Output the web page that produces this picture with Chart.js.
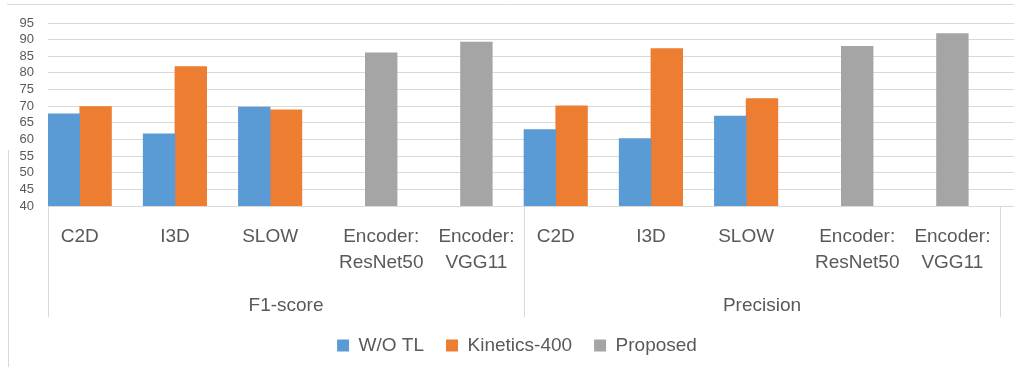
<!DOCTYPE html>
<html>
<head>
<meta charset="utf-8">
<script src="https://cdn.jsdelivr.net/npm/chart.js@4.4.1/dist/chart.umd.min.js"></script>
<style>
  html, body { margin: 0; padding: 0; background: #ffffff; }
  canvas { display: block; }
</style>
</head>
<body>
<canvas id="chart" width="1014" height="367"></canvas>
<script>
// Category labels (multi-line) and their metric groups
const categories = [
  ['C2D'], ['I3D'], ['SLOW'], ['Encoder:', 'ResNet50'], ['Encoder:', 'VGG11'],
  ['C2D'], ['I3D'], ['SLOW'], ['Encoder:', 'ResNet50'], ['Encoder:', 'VGG11']
];
const groups = ['F1-score', 'Precision'];
const groupSize = 5;

// Series values
const woTL      = [67.7, 61.7, 69.7, null, null, 63.0, 60.3, 67.0, null, null];
const kinetics  = [69.9, 81.9, 68.9, null, null, 70.1, 87.3, 72.3, null, null];
const proposed  = [null, null, null, 86.0, 89.3, null, null, null, 88.0, 91.8];
const emptySlot = [null, null, null, null, null, null, null, null, null, null];

// Value axis
const yMin = 40;
const yMax = 95;
const yStep = 5;

const TEXT = '#595959';
const GRID = '#d9d9d9';
const FONT = '"Liberation Sans", Arial, sans-serif';

Chart.defaults.font.family = FONT;
Chart.defaults.color = TEXT;

// Draws the category labels centred under their bars, the group labels,
// the group separators and the thin outer frame.
const categoryAxis = {
  id: 'categoryAxis',
  beforeDraw(chart) {
    const { ctx, width, height } = chart;
    ctx.save();
    ctx.strokeStyle = GRID;
    ctx.lineWidth = 1;
    ctx.beginPath();
    ctx.moveTo(7, 4.5);
    ctx.lineTo(width, 4.5);
    ctx.moveTo(8.5, 150);
    ctx.lineTo(8.5, height);
    ctx.stroke();
    ctx.restore();
  },
  afterDraw(chart) {
    const { ctx, chartArea, scales: { x } } = chart;
    const n = categories.length;
    const cw = (x.right - x.left) / n;
    const top = chartArea.bottom;
    const metas = chart.data.datasets.map((d, i) => chart.getDatasetMeta(i));

    ctx.save();
    ctx.fillStyle = TEXT;
    ctx.font = '19px ' + FONT;
    ctx.textAlign = 'center';
    ctx.textBaseline = 'alphabetic';

    categories.forEach((lines, i) => {
      const xs = [];
      metas.forEach((m, d) => {
        const v = chart.data.datasets[d].data[i];
        if (v !== null && v !== undefined && m.data[i]) xs.push(m.data[i].x);
      });
      const cx = xs.length ? xs.reduce((a, b) => a + b, 0) / xs.length : x.getPixelForValue(i);
      lines.forEach((t, j) => ctx.fillText(t, cx, top + 36 + j * 26));
    });

    groups.forEach((g, k) => {
      const l = x.left + k * groupSize * cw;
      const r = l + groupSize * cw;
      ctx.fillText(g, (l + r) / 2, top + 105);
    });

    ctx.strokeStyle = GRID;
    ctx.lineWidth = 1;
    for (let k = 0; k <= groups.length; k++) {
      const px = Math.round(x.left + k * groupSize * cw) + 0.5;
      ctx.beginPath();
      ctx.moveTo(px, top);
      ctx.lineTo(px, top + 111);
      ctx.stroke();
    }
    ctx.restore();
  }
};

new Chart(document.getElementById('chart'), {
  type: 'bar',
  data: {
    labels: categories,
    datasets: [
      { label: 'W/O TL', data: woTL, backgroundColor: '#5b9bd5', stack: 'a' },
      { label: 'Kinetics-400', data: kinetics, backgroundColor: '#ed7d31', stack: 'b' },
      { label: 'Proposed', data: proposed, backgroundColor: '#a5a5a5', stack: 'b' },
      { label: '', data: emptySlot, backgroundColor: 'rgba(0,0,0,0)', stack: 'c' }
    ]
  },
  options: {
    responsive: false,
    animation: false,
    devicePixelRatio: 1,
    layout: { padding: { top: 23, left: 20, right: 0, bottom: 2 } },
    datasets: { bar: { categoryPercentage: 1.0, barPercentage: 1.0 } },
    scales: {
      x: {
        stacked: true,
        grid: { display: false },
        border: { display: false },
        ticks: { display: false },
        afterFit(scale) { scale.height = 108; }
      },
      y: {
        stacked: false,
        min: yMin,
        max: yMax,
        ticks: { stepSize: yStep, autoSkip: false, padding: 14, color: TEXT, font: { size: 13, lineHeight: 1 } },
        grid: { color: GRID, drawTicks: false },
        border: { display: false },
        afterFit(scale) { scale.width = 28; }
      },
      y2: {
        type: 'linear',
        position: 'right',
        min: yMin,
        max: yMax,
        ticks: { stepSize: yStep, autoSkip: false, display: false },
        grid: { color: GRID, drawOnChartArea: false, drawTicks: true, tickLength: 14 },
        border: { display: false },
        afterFit(scale) { scale.width = 14; }
      }
    },
    plugins: {
      legend: {
        position: 'bottom',
        labels: {
          boxWidth: 12,
          boxHeight: 12,
          padding: 22,
          color: TEXT,
          font: { size: 19 },
          filter: item => item.text !== ''
        }
      },
      tooltip: { enabled: false }
    }
  },
  plugins: [categoryAxis]
});
</script>
</body>
</html>
